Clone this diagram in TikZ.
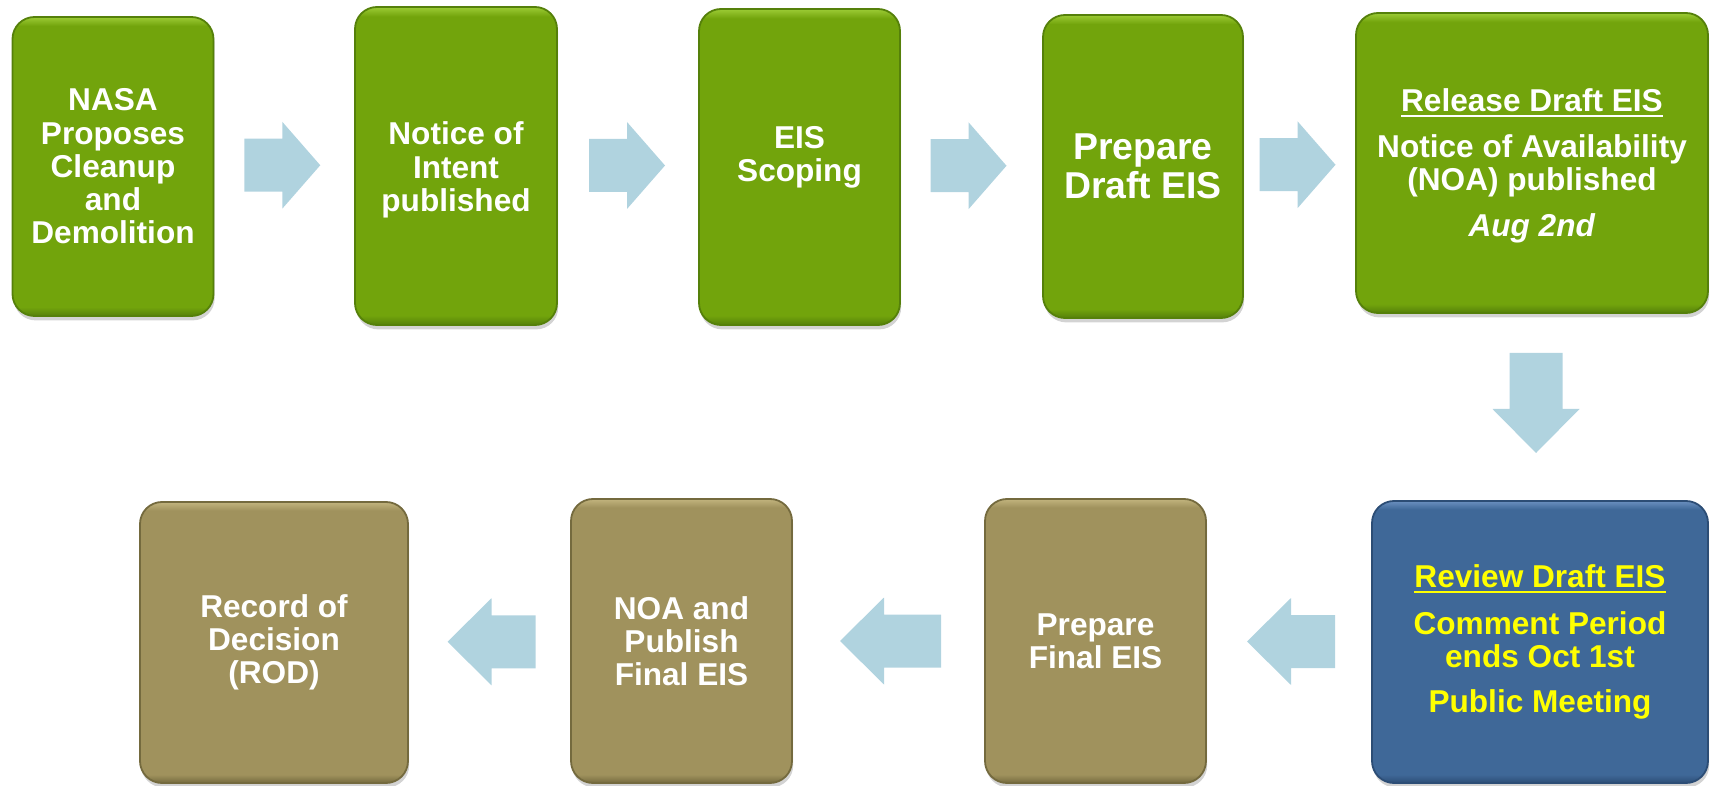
\documentclass[tikz,border=0pt]{standalone}
\usepackage{fontspec}
\setmainfont{Liberation Sans}
\usetikzlibrary{calc,shadows}
\definecolor{gbase}{HTML}{72A40C}
\definecolor{gedge}{HTML}{55800A}
\definecolor{glight}{HTML}{9CCB35}
\definecolor{bbase}{HTML}{A0925D}
\definecolor{bedge}{HTML}{746A3E}
\definecolor{blight}{HTML}{C2B47E}
\definecolor{ubase}{HTML}{3F6898}
\definecolor{uedge}{HTML}{2C4D75}
\definecolor{ulight}{HTML}{6A90C0}
\definecolor{arrowc}{HTML}{B0D3DF}
\definecolor{ytext}{HTML}{FFFF00}
\pgfdeclareverticalshading{gsh}{100bp}{color(0bp)=(gedge); color(25bp)=(gedge); color(26.5bp)=(gbase); color(73.5bp)=(gbase); color(75bp)=(glight); color(100bp)=(glight)}
\pgfdeclareverticalshading{bsh}{100bp}{color(0bp)=(bedge); color(25bp)=(bedge); color(26.5bp)=(bbase); color(73.5bp)=(bbase); color(75bp)=(blight); color(100bp)=(blight)}
\pgfdeclareverticalshading{ush}{100bp}{color(0bp)=(uedge); color(25bp)=(uedge); color(26.5bp)=(ubase); color(73.5bp)=(ubase); color(75bp)=(ulight); color(100bp)=(ulight)}
\newcommand\txtfont{\fontsize{15.8}{16.6}\selectfont\bfseries}
\newcommand\bigfont{\fontsize{18.7}{19.6}\selectfont\bfseries}
\newcommand\myul[1]{\setbox0\hbox{#1}\rlap{\rule[-2.6pt]{\wd0}{1.1pt}}\box0}
\tikzset{
  box/.style={rounded corners=11pt, line width=0.9pt, inner sep=0pt,
    align=center, text=white, font=\txtfont,
    drop shadow={opacity=0.35, shadow xshift=0.6pt, shadow yshift=-2.2pt}},
  gbox/.style={box, shade, shading=gsh, draw=gedge},
  bbox/.style={box, shade, shading=bsh, draw=bedge},
  ubox/.style={box, shade, shading=ush, draw=uedge, text=ytext},
  txtw/.style={inner sep=0pt, align=center, text=white, font=\txtfont},
  blk/.style={fill=arrowc},
}
\begin{document}
\begin{tikzpicture}[x=0.5pt,y=-0.5pt]
\useasboundingbox (0,0) rectangle (1710,786);
% top row
\node[gbox, minimum width=100.5pt, minimum height=149.5pt] (b1) at (113,166.5)
  {NASA\\Proposes\\Cleanup\\and\\Demolition};
\node[gbox, minimum width=101pt, minimum height=159pt] (b2) at (456,166) {};
\node[txtw] (t2) at ([yshift=-2pt]b2.center) {Notice of\\Intent\\published};
\node[gbox, minimum width=100.5pt, minimum height=158pt] (b3) at (799.5,167) {};
\node[txtw] (t3) at ([yshift=5pt]b3.center) {EIS\\Scoping};
\node[gbox, minimum width=100pt, minimum height=151.5pt, font=\bigfont] (b4) at (1143,166.5)
  {Prepare\\Draft EIS};
\node[gbox, minimum width=176pt, minimum height=150pt] (b5) at (1532,163) {};
\node[txtw] (t5) at ([yshift=-1.5pt]b5.center)
  {\myul{Release Draft EIS}\\[6pt]Notice of Availability\\(NOA) published\\[6.5pt]\textit{Aug 2nd}};
% bottom row
\node[ubox, minimum width=168pt, minimum height=141pt] (b6) at (1540,642)
  {\myul{Review Draft EIS}\\[6.5pt]Comment Period\\ends Oct 1st\\[6pt]Public Meeting};
\node[bbox, minimum width=110.5pt, minimum height=142pt] (b7) at (1095.5,641)
  {Prepare\\Final EIS};
\node[bbox, minimum width=110.5pt, minimum height=142pt] (b8) at (681.5,641)
  {NOA and\\Publish\\Final EIS};
\node[bbox, minimum width=134pt, minimum height=140.5pt] (b9) at (274,642.5)
  {Record of\\Decision\\(ROD)};
% block arrows (right)
\coordinate (a1) at ($(b1.east)!0.5!(b2.west)+(-2,-1)$);
\coordinate (a2) at ($(b2.east)!0.5!(b3.west)+(-1,-1)$);
\coordinate (a3) at ($(b3.east)!0.5!(b4.west)+(-3,-1)$);
\coordinate (a4) at ($(b4.east)!0.5!(b5.west)+(-2,0)$);
\foreach \a in {a1,a2,a3,a4}{
  \fill[blk, shift={(\a)}] (-38,-26.5) -- (0,-26.5) -- (0,-43.5) -- (38,0)
    -- (0,43.5) -- (0,26.5) -- (-38,26.5) -- cycle;
}
% down arrow
\coordinate (ad) at ($(b5.south)!0.5!(b6.north)+(0,-4)$);
\fill[blk, shift={(ad)}] (-26.5,-50) -- (26.5,-50) -- (26.5,6) -- (43.5,6)
  -- (0,50) -- (-43.5,6) -- (-26.5,6) -- cycle;
% left arrows
\coordinate (a5) at ($(b7.east)!0.5!(b6.west)+(2,0)$);
\coordinate (a6) at ($(b8.east)!0.5!(b7.west)+(2,0)$);
\coordinate (a7) at ($(b9.east)!0.5!(b8.west)+(2,0)$);
\foreach \a in {a5,a7}{
  \fill[blk, shift={(\a)}] (44,-26.5) -- (0,-26.5) -- (0,-43.5) -- (-44,0)
    -- (0,43.5) -- (0,26.5) -- (44,26.5) -- cycle;
}
\fill[blk, shift={(a6)}] (50.5,-26.5) -- (-6.5,-26.5) -- (-6.5,-43.5) -- (-50.5,0)
  -- (-6.5,43.5) -- (-6.5,26.5) -- (50.5,26.5) -- cycle;
\end{tikzpicture}
\end{document}
